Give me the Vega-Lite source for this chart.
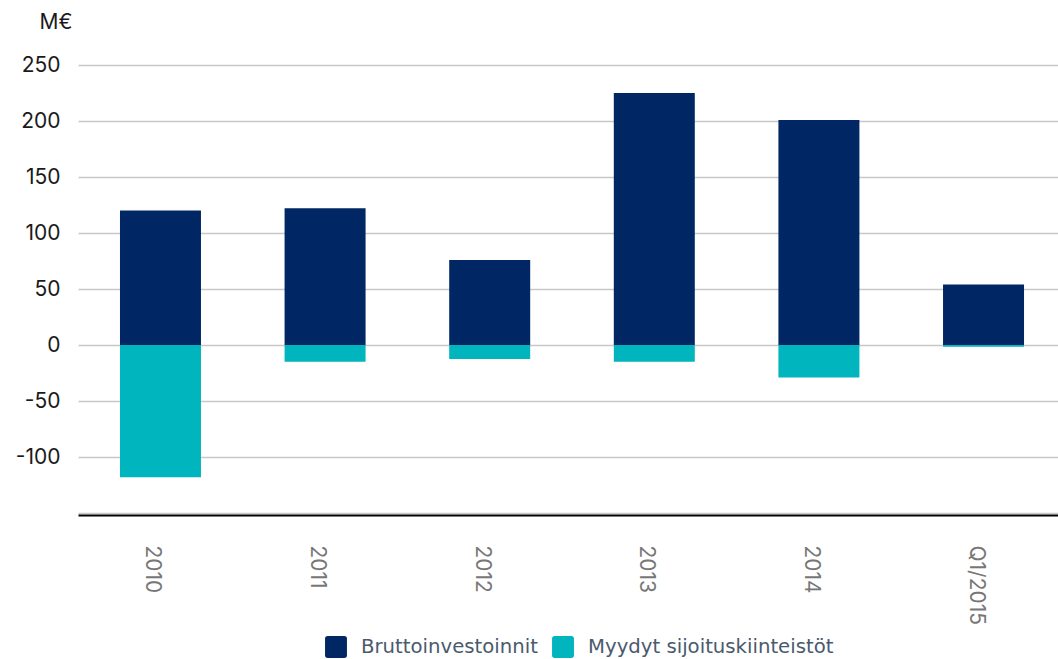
{
  "$schema": "https://vega.github.io/schema/vega-lite/v6.json",
  "width": 988,
  "height": 448,
  "autosize": {"type": "none"},
  "padding": {"left": 78, "top": 65, "right": 0, "bottom": 146},
  "background": "white",
  "config": {"view": {"stroke": null}},
  "data": {
    "values": [
      {"period": "2010", "series": "Bruttoinvestoinnit", "value": 120},
      {"period": "2010", "series": "Myydyt sijoituskiinteistöt", "value": -118},
      {"period": "2011", "series": "Bruttoinvestoinnit", "value": 122},
      {"period": "2011", "series": "Myydyt sijoituskiinteistöt", "value": -15},
      {"period": "2012", "series": "Bruttoinvestoinnit", "value": 76},
      {"period": "2012", "series": "Myydyt sijoituskiinteistöt", "value": -12.5},
      {"period": "2013", "series": "Bruttoinvestoinnit", "value": 225},
      {"period": "2013", "series": "Myydyt sijoituskiinteistöt", "value": -15},
      {"period": "2014", "series": "Bruttoinvestoinnit", "value": 201},
      {"period": "2014", "series": "Myydyt sijoituskiinteistöt", "value": -29},
      {"period": "Q1/2015", "series": "Bruttoinvestoinnit", "value": 54},
      {"period": "Q1/2015", "series": "Myydyt sijoituskiinteistöt", "value": -1.5}
    ]
  },
  "mark": {"type": "bar"},
  "encoding": {
    "x": {
      "field": "period",
      "type": "nominal",
      "sort": null,
      "scale": {"paddingInner": 0.508, "paddingOuter": 0.255},
      "axis": {
        "title": null,
        "labelAngle": 90,
        "labelFont": "Inter",
        "labelFontSize": 21,
        "labelColor": "#777777",
        "labelPadding": 30,
        "labelOffset": -8,
        "ticks": false,
        "domainColor": "#000000",
        "domainWidth": 2,
        "offset": 2
      }
    },
    "y": {
      "field": "value",
      "type": "quantitative",
      "scale": {"domain": [-150, 250], "nice": false},
      "axis": {
        "values": [-150, -100, -50, 0, 50, 100, 150, 200, 250],
        "labelExpr": "datum.value == -150 ? '' : toString(datum.value)",
        "title": "M€",
        "titleAngle": 0,
        "titleAlign": "right",
        "titleBaseline": "middle",
        "titleX": -6,
        "titleY": -43,
        "titleFont": "Inter",
        "titleFontSize": 21,
        "titleFontWeight": "normal",
        "titleColor": "#1a1a1a",
        "labelFont": "Inter",
        "labelFontSize": 21,
        "labelColor": "#1a1a1a",
        "labelPadding": 18,
        "ticks": false,
        "domain": false,
        "grid": true,
        "gridColor": "#c8c8c8",
        "gridWidth": 1.5
      }
    },
    "color": {
      "field": "series",
      "type": "nominal",
      "scale": {
        "domain": ["Bruttoinvestoinnit", "Myydyt sijoituskiinteistöt"],
        "range": ["#002663", "#00b5bd"]
      },
      "legend": {
        "title": null,
        "orient": "none",
        "direction": "horizontal",
        "legendX": 247,
        "legendY": 571,
        "symbolType": "M-0.75,-1 H0.75 Q1,-1 1,-0.75 V0.75 Q1,1 0.75,1 H-0.75 Q-1,1 -1,0.75 V-0.75 Q-1,-1 -0.75,-1 Z",
        "symbolSize": 480,
        "symbolStrokeWidth": 0,
        "symbolOpacity": 1,
        "labelFont": "DejaVu Sans",
        "labelFontSize": 19.7,
        "labelColor": "#4a5a6e",
        "labelOffset": 14,
        "columnPadding": 14,
        "labelLimit": 400
      }
    },
    "order": {"field": "series", "sort": "ascending"}
  }
}
